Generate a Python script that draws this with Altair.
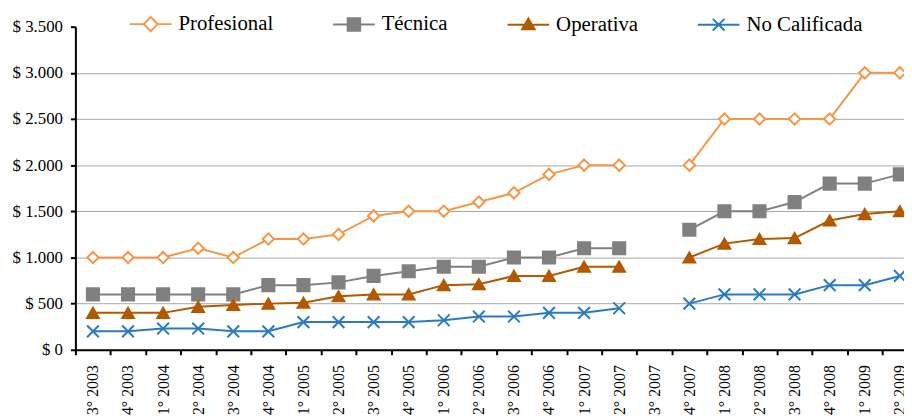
import altair as alt
import pandas as pd

periodos = ["3° 2003", "4° 2003", "1° 2004", "2° 2004", "3° 2004", "4° 2004",
            "1° 2005", "2° 2005", "3° 2005", "4° 2005", "1° 2006", "2° 2006",
            "3° 2006", "4° 2006", "1° 2007", "2° 2007", "3° 2007", "4° 2007",
            "1° 2008", "2° 2008", "3° 2008", "4° 2008", "1° 2009", "2° 2009"]
series = ["Profesional", "Técnica", "Operativa", "No Calificada"]

profesional = [1000, 1000, 1000, 1100, 1000, 1200, 1200, 1250, 1450, 1500, 1500, 1600,
               1700, 1900, 2000, 2000, None, 2000, 2500, 2500, 2500, 2500, 3000, 3000]
tecnica = [600, 600, 600, 600, 600, 700, 700, 730, 800, 850, 900, 900,
           1000, 1000, 1100, 1100, None, 1300, 1500, 1500, 1600, 1800, 1800, 1900]
operativa = [400, 400, 400, 465, 485, 500, 510, 580, 600, 600, 700, 710,
             800, 800, 900, 900, None, 1000, 1150, 1200, 1210, 1400, 1470, 1500]
no_calificada = [200, 200, 230, 230, 200, 200, 300, 300, 300, 300, 320, 360,
                 360, 400, 400, 450, None, 500, 600, 600, 600, 700, 700, 800]

y_ticks = [0, 500, 1000, 1500, 2000, 2500, 3000, 3500]

colors = ["#F79646", "#808080", "#B35900", "#2A7AC4"]
fills = ["white", "#808080", "#B35900", "transparent"]
x_path = "M-1,-1L1,1M-1,1L1,-1"
shapes = ["diamond", "square", "triangle-up", x_path]
sizes = [130, 150, 140, 140]

# legend symbols: line + marker
legend_paths = [
    "M-1,0L-0.34,0M0.34,0L1,0M-0.34,0L0,-0.34L0.34,0L0,0.34Z",
    "M-1,0L1,0M-0.3,-0.3L0.3,-0.3L0.3,0.3L-0.3,0.3Z",
    "M-1,0L1,0M-0.3,0.22L0,-0.3L0.3,0.22Z",
    "M-1,0L1,0M-0.28,-0.28L0.28,0.28M-0.28,0.28L0.28,-0.28",
]

rows = []
for name, vals in zip(series, [profesional, tecnica, operativa, no_calificada]):
    for i, (p, v) in enumerate(zip(periodos, vals)):
        if v is None:
            continue
        rows.append({"periodo": p, "serie": name, "valor": v, "tramo": 0 if i < 16 else 1})
df = pd.DataFrame(rows)

FONT = "Liberation Serif"

x_enc = alt.X(
    "periodo:N", sort=periodos,
    scale=alt.Scale(type="band", domain=periodos, range=[0, 849.5], paddingInner=0, paddingOuter=0),
    axis=alt.Axis(title=None, labelAngle=270, labelAlign="right", labelBaseline="middle",
                  labelFont=FONT, labelFontSize=16, labelColor="#000000", labelPadding=10,
                  tickBand="extent", tickSize=5, tickWidth=2, tickColor="#000000",
                  domainColor="#000000", domainWidth=2, grid=False, labelOverlap=False),
)
y_enc = alt.Y(
    "valor:Q",
    scale=alt.Scale(domain=[0, 3500], nice=False),
    axis=alt.Axis(title=None, values=y_ticks,
                  labelExpr="'$ ' + replace(format(datum.value, ','), ',', '.')",
                  labelFont=FONT, labelFontSize=17, labelColor="#000000", labelPadding=8,
                  tickSize=5, tickWidth=2, tickColor="#000000",
                  domainColor="#000000", domainWidth=2,
                  grid=True, gridColor="#A6A6A6", gridWidth=1,
                  gridOpacity={"condition": {"test": "datum.value >= 3500", "value": 0}, "value": 1}),
)

legend = alt.Legend(
    title=None, orient="none", legendX=54, legendY=-25, direction="horizontal",
    symbolSize=1764, labelFont=FONT, labelFontSize=21, labelColor="#000000",
    labelOffset=6, columnPadding=56, symbolStrokeWidth=2, symbolOpacity=1,
)

layers = []
for name, shp, fc, sc, sz in zip(series, shapes, fills, colors, sizes):
    sub = alt.Chart(df).transform_filter(alt.datum.serie == name)
    layers.append(sub.mark_line(stroke=sc, strokeWidth=2).encode(x=x_enc, y=y_enc, detail="tramo:N"))
for name, shp, fc, sc, sz in zip(series, shapes, fills, colors, sizes):
    sub = alt.Chart(df).transform_filter(alt.datum.serie == name)
    layers.append(
        sub.mark_point(shape=shp, fill=fc, stroke=sc, filled=True, size=sz, strokeWidth=2, opacity=1)
        .encode(x=x_enc, y=y_enc)
    )

legend_layer = alt.Chart(df).mark_point(
    filled=True, strokeWidth=2, opacity=0
).encode(
    x=x_enc, y=y_enc,
    shape=alt.Shape("serie:N", sort=series, scale=alt.Scale(domain=series, range=legend_paths), legend=legend),
    fill=alt.Fill("serie:N", sort=series, scale=alt.Scale(domain=series, range=fills), legend=legend),
    stroke=alt.Stroke("serie:N", sort=series, scale=alt.Scale(domain=series, range=colors), legend=legend),
)

chart = alt.layer(*layers, legend_layer).properties(
    width=836, height=326,
    autosize=alt.AutoSizeParams(type="none"),
    padding={"left": 68, "top": 17, "right": 0, "bottom": 68},
    background="white",
).configure_view(stroke=None)

chart.save("out.html", embed_options={"renderer": "svg", "actions": False})
